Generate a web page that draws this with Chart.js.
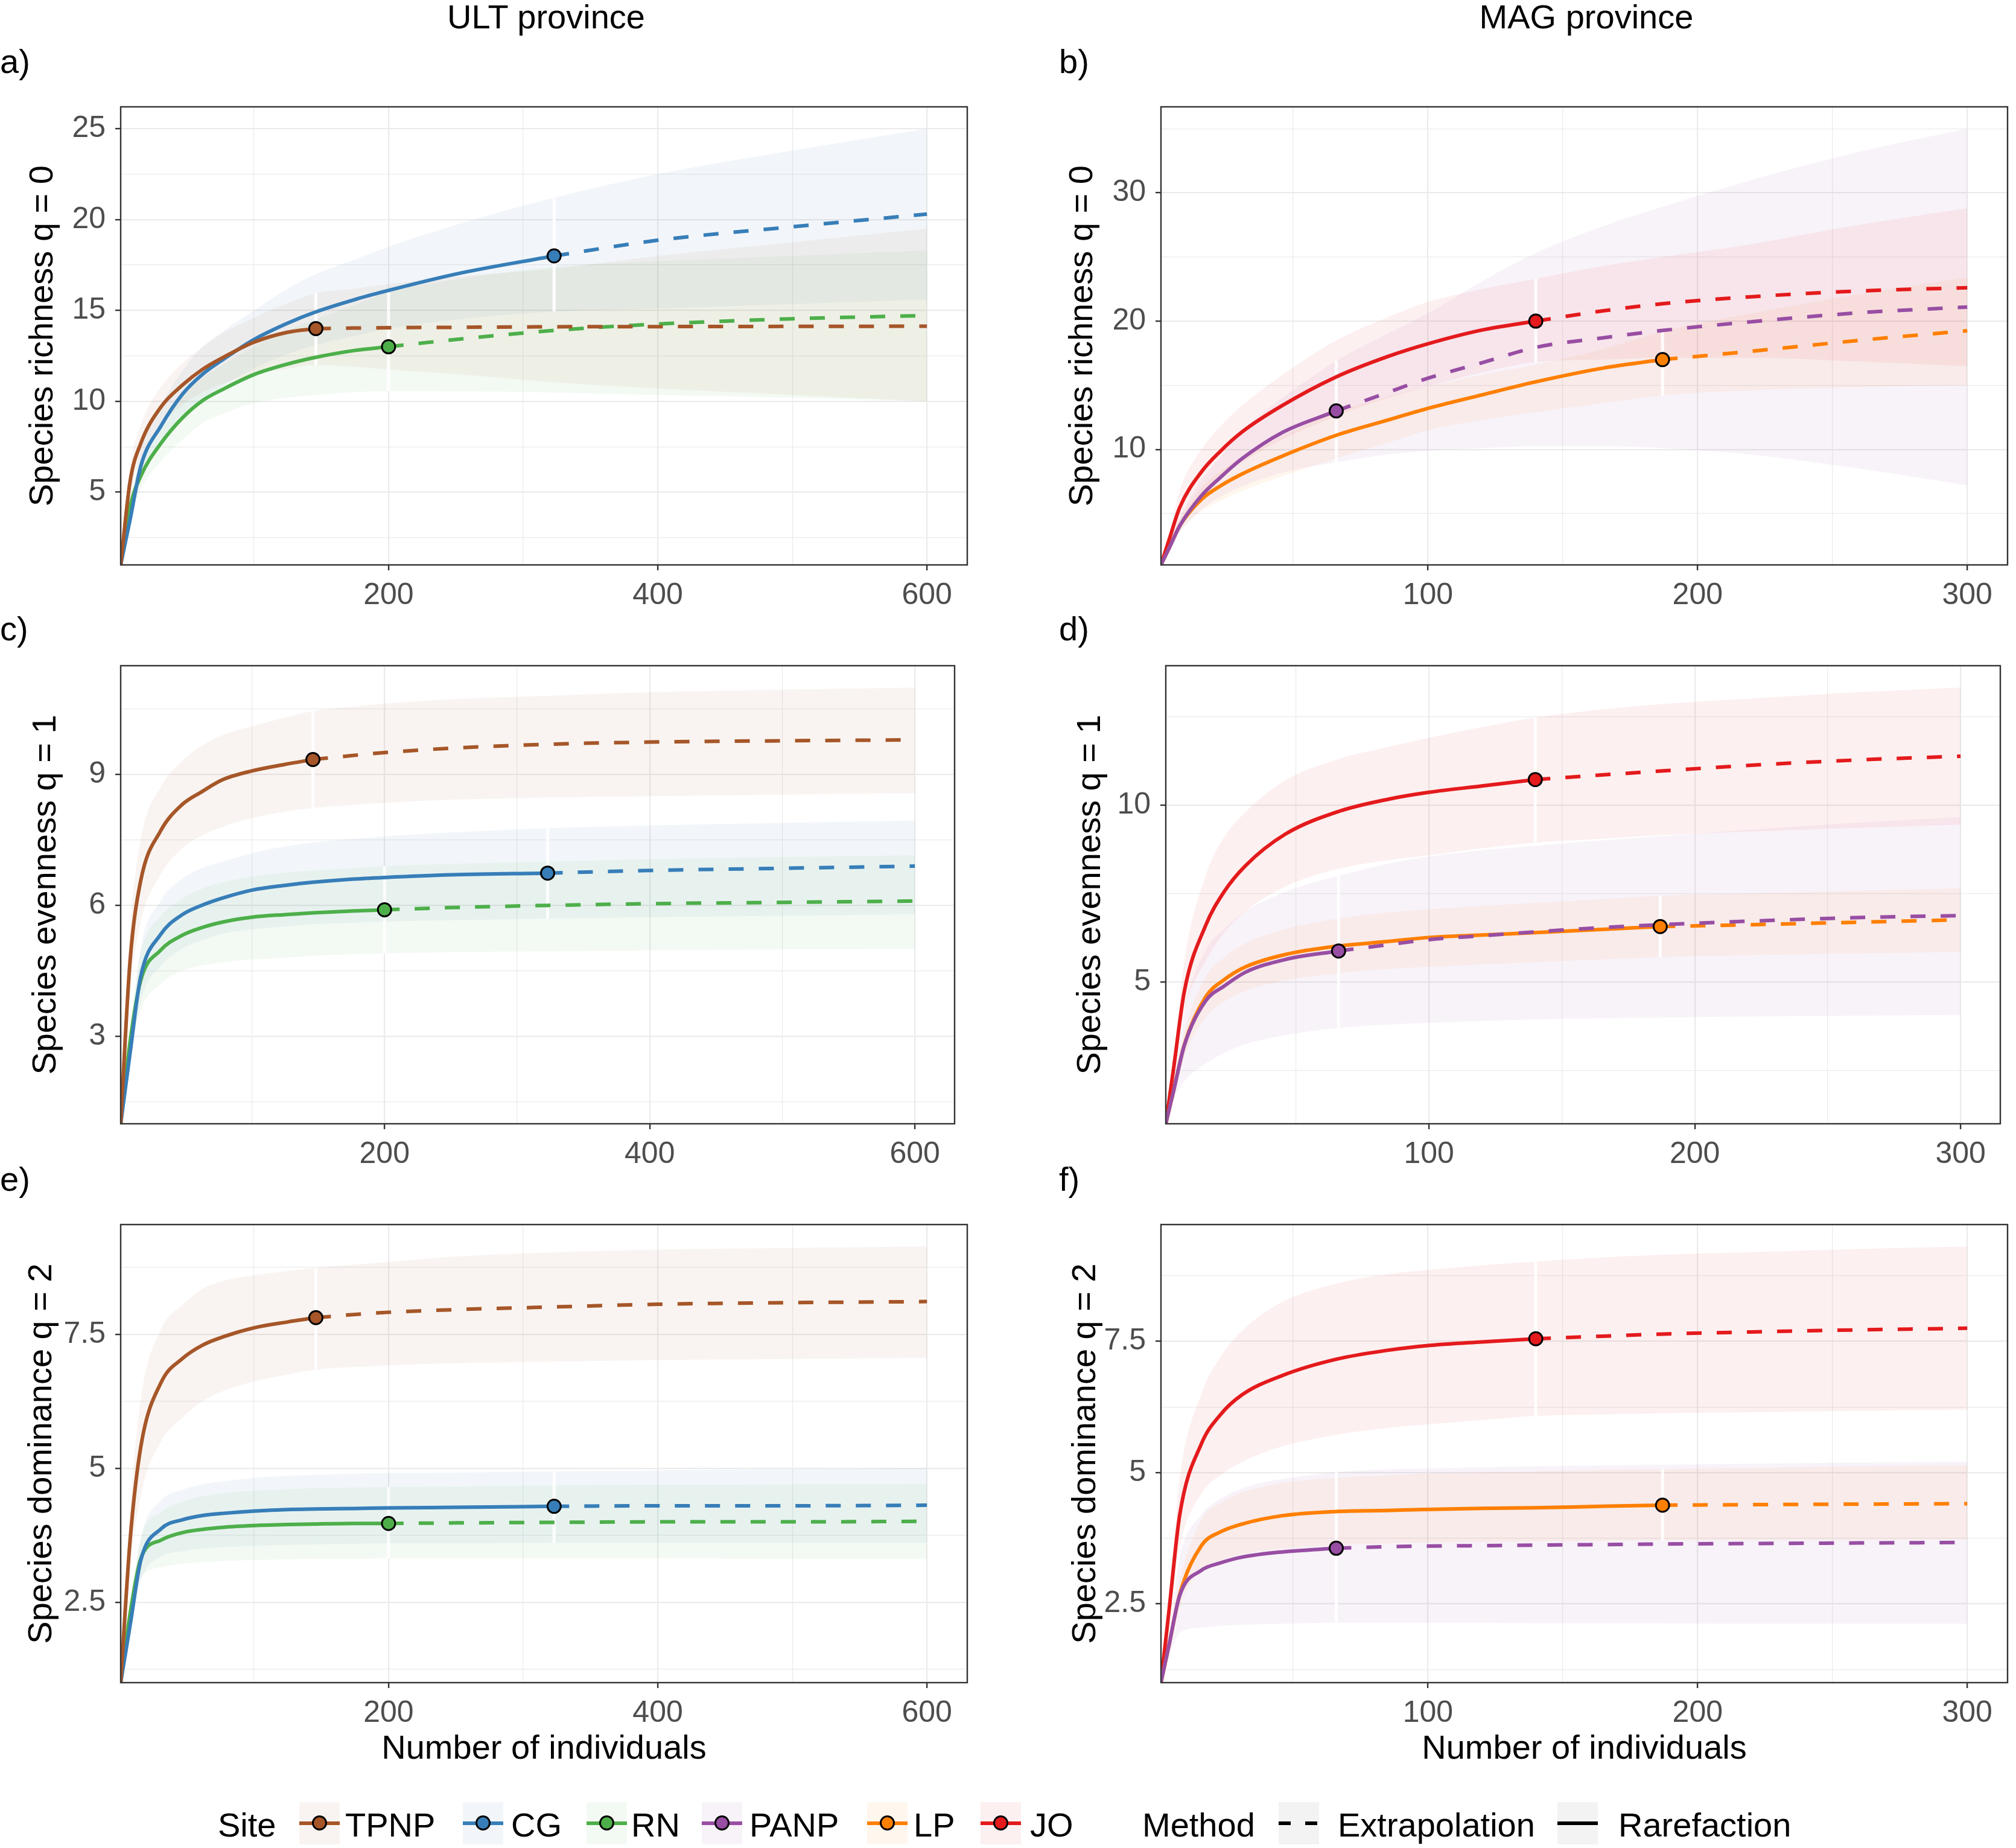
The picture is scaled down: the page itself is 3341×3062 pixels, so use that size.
<!DOCTYPE html>
<html>
<head>
<meta charset="utf-8">
<script src="https://cdn.jsdelivr.net/npm/chart.js@4.4.1/dist/chart.umd.min.js"></script>
<style>
    html, body { margin: 0; padding: 0; background: #fff; }
    body { position: relative; width: 3341px; height: 3062px; overflow: hidden;
           font-family: 'Liberation Sans', Arial, sans-serif; }
    canvas { position: absolute; }
    .txt { position: absolute; font-size: 56px; line-height: 56px; color: #000; white-space: nowrap; }
    .key { position: absolute; width: 67px; height: 70px; }
    .key .ln { position: absolute; left: 0; right: 0; top: 32px; height: 6px; }
    .key .pt { position: absolute; left: 21px; top: 22px; width: 19px; height: 19px;
               border: 3px solid #000; border-radius: 50%; }
</style>
</head>
<body>
<div class="txt" style="left:905px; top:0px; transform:translateX(-50%)">ULT province</div>
<div class="txt" style="left:2629px; top:0px; transform:translateX(-50%)">MAG province</div>
<div class="txt" style="left:0px; top:74px">a)</div>
<div class="txt" style="left:1755px; top:74px">b)</div>
<div class="txt" style="left:0px; top:1014px">c)</div>
<div class="txt" style="left:1755px; top:1014px">d)</div>
<div class="txt" style="left:0px; top:1926px">e)</div>
<div class="txt" style="left:1755px; top:1926px">f)</div>

<script>
// ---------------------------------------------------------------------------
// Data (read off the figure): sample size grid, observed sample sizes,
// estimate / lower / upper bound of the diversity curves per site.
// ---------------------------------------------------------------------------
const ULT_N = [1, 8, 16, 31, 47, 62, 78, 100, 125, 146, 175, 200, 250, 323, 400, 500, 600];
const MAG_N = [1, 4, 8, 16, 23, 31, 46, 66, 85, 100, 120, 140, 165, 187, 220, 260, 300];

const ULT_SITES = ['TPNP', 'CG', 'RN'];
const MAG_SITES = ['PANP', 'LP', 'JO'];
const ULT_OBS = [146, 323, 200];
const MAG_OBS = [66, 187, 140];
const ULT_COLORS = ['#A65628', '#377EB8', '#4DAF4A'];
const MAG_COLORS = ['#984EA3', '#FF7F00', '#E41A1C'];

const ULT_X_TICKS = [200, 400, 600];
const MAG_X_TICKS = [100, 200, 300];
const A_Y_TICKS = [5, 10, 15, 20, 25];
const B_Y_TICKS = [10, 20, 30];
const C_Y_TICKS = [3, 6, 9];
const D_Y_TICKS = [5, 10];
const E_Y_TICKS = [2.5, 5, 7.5];
const F_Y_TICKS = [2.5, 5, 7.5];

// q = 0, ULT
const TPNP_Q0_EST = [1, 5.6, 7.7, 9.7, 10.9, 11.77, 12.45, 13.25, 13.8, 14.0, 14.03, 14.05, 14.07, 14.1, 14.11, 14.12, 14.13];
const TPNP_Q0_LO  = [1, 4.9, 6.8, 8.7, 9.8, 10.5, 11.0, 11.5, 11.8, 12.0, 11.9, 11.75, 11.5, 11.05, 10.7, 10.35, 10.0];
const TPNP_Q0_HI  = [1, 6.3, 8.7, 10.8, 12.1, 13.0, 13.8, 14.6, 15.4, 15.95, 16.2, 16.45, 16.85, 17.3, 18.0, 18.75, 19.5];
const CG_Q0_EST = [1, 3.5, 6.45, 8.65, 10.4, 11.5, 12.35, 13.4, 14.3, 14.92, 15.6, 16.1, 17.0, 18.0, 18.86, 19.6, 20.3];
const CG_Q0_LO  = [1, 3.0, 5.6, 7.6, 9.1, 10.1, 10.9, 11.8, 12.6, 13.1, 13.6, 14.0, 14.5, 14.94, 15.1, 15.35, 15.6];
const CG_Q0_HI  = [1, 4.0, 7.4, 9.8, 11.7, 13.0, 13.9, 15.0, 16.2, 17.0, 17.8, 18.5, 19.7, 21.2, 22.5, 23.8, 25.0];
const RN_Q0_EST = [1, 4.2, 5.9, 7.7, 9.1, 10.05, 10.7, 11.47, 12.05, 12.42, 12.8, 13.0, 13.4, 13.9, 14.25, 14.54, 14.72];
const RN_Q0_LO  = [1, 3.7, 5.2, 6.7, 7.9, 8.8, 9.35, 9.9, 10.2, 10.35, 10.5, 10.56, 10.55, 10.48, 10.35, 10.2, 10.0];
const RN_Q0_HI  = [1, 4.7, 6.6, 8.6, 10.2, 11.3, 12.05, 13.0, 13.9, 14.5, 15.3, 16.0, 16.7, 17.4, 17.7, 18.0, 18.3];

// q = 1, ULT
const TPNP_Q1_EST = [1, 4.7, 6.55, 7.7, 8.3, 8.6, 8.88, 9.08, 9.23, 9.34, 9.43, 9.5, 9.6, 9.69, 9.74, 9.77, 9.79];
const TPNP_Q1_LO  = [1, 4.0, 5.6, 6.7, 7.3, 7.6, 7.8, 8.0, 8.15, 8.23, 8.3, 8.35, 8.42, 8.47, 8.5, 8.54, 8.57];
const TPNP_Q1_HI  = [1, 5.4, 7.5, 8.7, 9.3, 9.65, 9.9, 10.1, 10.3, 10.45, 10.55, 10.62, 10.72, 10.8, 10.88, 10.94, 10.99];
const CG_Q1_EST = [1, 2.6, 4.36, 5.33, 5.78, 6.0, 6.17, 6.35, 6.46, 6.53, 6.6, 6.64, 6.7, 6.74, 6.8, 6.85, 6.9];
const CG_Q1_LO  = [1, 2.3, 3.8, 4.6, 5.0, 5.2, 5.35, 5.45, 5.52, 5.57, 5.6, 5.63, 5.66, 5.7, 5.73, 5.76, 5.8];
const CG_Q1_HI  = [1, 2.8, 5.0, 6.1, 6.6, 6.85, 7.0, 7.2, 7.35, 7.44, 7.52, 7.58, 7.67, 7.77, 7.83, 7.89, 7.94];
const RN_Q1_EST = [1, 2.86, 4.27, 4.97, 5.31, 5.49, 5.62, 5.73, 5.79, 5.83, 5.87, 5.9, 5.95, 6.0, 6.04, 6.07, 6.1];
const RN_Q1_LO  = [1, 2.6, 3.6, 4.2, 4.5, 4.62, 4.7, 4.76, 4.8, 4.85, 4.88, 4.9, 4.93, 4.95, 4.97, 4.99, 5.0];
const RN_Q1_HI  = [1, 3.2, 4.9, 5.75, 6.15, 6.38, 6.53, 6.66, 6.75, 6.8, 6.85, 6.9, 6.95, 7.0, 7.06, 7.11, 7.15];

// q = 2, ULT
const TPNP_Q2_EST = [1, 3.66, 5.41, 6.6, 7.05, 7.3, 7.46, 7.62, 7.73, 7.81, 7.87, 7.91, 7.96, 8.01, 8.06, 8.09, 8.11];
const TPNP_Q2_LO  = [1, 3.1, 4.5, 5.5, 5.95, 6.25, 6.45, 6.62, 6.75, 6.84, 6.89, 6.92, 6.96, 6.99, 7.02, 7.04, 7.06];
const TPNP_Q2_HI  = [1, 4.2, 6.3, 7.6, 8.05, 8.35, 8.5, 8.6, 8.68, 8.74, 8.8, 8.85, 8.95, 9.03, 9.08, 9.11, 9.14];
const CG_Q2_EST = [1, 2.07, 3.29, 3.87, 4.04, 4.12, 4.16, 4.2, 4.23, 4.24, 4.25, 4.26, 4.27, 4.29, 4.3, 4.3, 4.31];
const CG_Q2_LO  = [1, 1.9, 2.9, 3.35, 3.45, 3.5, 3.53, 3.55, 3.57, 3.58, 3.59, 3.6, 3.6, 3.61, 3.61, 3.61, 3.61];
const CG_Q2_HI  = [1, 2.25, 3.7, 4.4, 4.6, 4.7, 4.76, 4.82, 4.86, 4.88, 4.9, 4.91, 4.92, 4.94, 4.96, 4.98, 5.0];
const RN_Q2_EST = [1, 2.29, 3.32, 3.66, 3.8, 3.86, 3.9, 3.93, 3.95, 3.96, 3.97, 3.97, 3.98, 3.99, 4.0, 4.0, 4.01];
const RN_Q2_LO  = [1, 2.1, 2.95, 3.15, 3.22, 3.25, 3.27, 3.29, 3.3, 3.31, 3.31, 3.32, 3.32, 3.32, 3.32, 3.31, 3.31];
const RN_Q2_HI  = [1, 2.5, 3.7, 4.18, 4.38, 4.48, 4.54, 4.58, 4.61, 4.63, 4.64, 4.65, 4.66, 4.68, 4.69, 4.7, 4.71];

// q = 0, MAG
const PANP_Q0_EST = [1, 2.3, 4.06, 6.39, 7.81, 9.27, 11.32, 13.0, 14.43, 15.55, 16.75, 17.95, 18.7, 19.27, 19.95, 20.65, 21.1];
const PANP_Q0_LO  = [1, 2.0, 3.5, 5.3, 6.3, 7.1, 8.2, 9.0, 9.6, 9.9, 10.1, 10.25, 10.25, 10.1, 9.6, 8.5, 7.2];
const PANP_Q0_HI  = [1, 2.6, 4.7, 7.6, 9.4, 11.4, 14.0, 16.9, 19.0, 20.6, 23.1, 25.3, 27.4, 28.9, 31.0, 33.2, 35.0];
const LP_Q0_EST = [1, 2.3, 4.06, 6.1, 7.15, 8.08, 9.48, 11.1, 12.28, 13.2, 14.25, 15.27, 16.34, 17.0, 17.65, 18.5, 19.25];
const LP_Q0_LO  = [1, 2.1, 3.6, 5.2, 6.0, 6.75, 7.9, 9.3, 10.5, 11.5, 12.3, 12.9, 13.6, 14.2, 14.6, 14.85, 15.0];
const LP_Q0_HI  = [1, 2.5, 4.5, 7.0, 8.3, 9.4, 11.0, 12.9, 14.1, 14.9, 15.8, 16.6, 17.8, 19.2, 20.6, 22.1, 23.4];
const JO_Q0_EST = [1, 2.95, 5.5, 8.25, 9.85, 11.35, 13.42, 15.65, 17.23, 18.23, 19.3, 20.0, 20.8, 21.35, 21.9, 22.35, 22.6];
const JO_Q0_LO  = [1, 2.6, 4.3, 6.5, 7.9, 9.0, 10.8, 12.6, 14.0, 14.9, 16.0, 16.8, 17.0, 17.15, 17.15, 16.85, 16.5];
const JO_Q0_HI  = [1, 3.3, 6.8, 10.0, 11.8, 13.4, 15.8, 18.5, 20.3, 21.5, 22.5, 23.3, 24.3, 25.0, 26.0, 27.5, 28.8];

// q = 1, MAG
const PANP_Q1_EST = [1, 1.95, 3.22, 4.47, 4.89, 5.28, 5.64, 5.88, 6.06, 6.2, 6.31, 6.42, 6.54, 6.62, 6.72, 6.82, 6.88];
const PANP_Q1_LO  = [1, 1.7, 2.2, 2.7, 3.0, 3.25, 3.5, 3.71, 3.8, 3.85, 3.9, 3.95, 3.98, 4.0, 4.03, 4.05, 4.07];
const PANP_Q1_HI  = [1, 2.2, 4.2, 5.9, 6.5, 7.0, 7.55, 8.0, 8.35, 8.55, 8.72, 8.85, 9.0, 9.12, 9.3, 9.5, 9.66];
const LP_Q1_EST = [1, 1.96, 3.24, 4.58, 5.07, 5.43, 5.78, 6.02, 6.15, 6.26, 6.33, 6.4, 6.49, 6.57, 6.62, 6.69, 6.76];
const LP_Q1_LO  = [1, 1.8, 2.9, 4.0, 4.45, 4.75, 5.05, 5.25, 5.37, 5.43, 5.5, 5.56, 5.64, 5.71, 5.76, 5.81, 5.85];
const LP_Q1_HI  = [1, 2.1, 3.6, 5.15, 5.7, 6.1, 6.5, 6.8, 6.97, 7.06, 7.15, 7.24, 7.34, 7.44, 7.5, 7.58, 7.65];
const JO_Q1_EST = [1, 2.6, 4.75, 6.6, 7.56, 8.29, 9.18, 9.82, 10.17, 10.36, 10.54, 10.72, 10.85, 10.96, 11.12, 11.27, 11.38];
const JO_Q1_LO  = [1, 2.4, 4.2, 5.6, 6.4, 7.0, 7.7, 8.2, 8.45, 8.58, 8.78, 8.94, 9.05, 9.15, 9.25, 9.35, 9.45];
const JO_Q1_HI  = [1, 2.8, 5.6, 8.0, 9.1, 9.8, 10.7, 11.3, 11.65, 11.9, 12.2, 12.47, 12.7, 12.85, 13.0, 13.18, 13.32];

// q = 2, MAG
const PANP_Q2_EST = [1, 1.72, 2.67, 3.14, 3.28, 3.39, 3.49, 3.56, 3.59, 3.6, 3.61, 3.62, 3.63, 3.64, 3.65, 3.66, 3.67];
const PANP_Q2_LO  = [1, 1.5, 1.95, 2.05, 2.08, 2.1, 2.12, 2.14, 2.14, 2.14, 2.14, 2.13, 2.13, 2.13, 2.12, 2.12, 2.12];
const PANP_Q2_HI  = [1, 1.95, 3.4, 4.2, 4.5, 4.7, 4.88, 5.01, 5.06, 5.08, 5.1, 5.12, 5.14, 5.15, 5.17, 5.19, 5.21];
const LP_Q2_EST = [1, 1.72, 2.69, 3.61, 3.87, 4.02, 4.18, 4.26, 4.28, 4.3, 4.32, 4.33, 4.36, 4.38, 4.39, 4.4, 4.41];
const LP_Q2_LO  = [1, 1.6, 2.45, 3.15, 3.33, 3.45, 3.55, 3.62, 3.65, 3.67, 3.68, 3.69, 3.7, 3.71, 3.72, 3.72, 3.73];
const LP_Q2_HI  = [1, 1.85, 2.95, 4.1, 4.42, 4.62, 4.8, 4.9, 4.95, 4.98, 5.0, 5.02, 5.05, 5.07, 5.09, 5.12, 5.14];
const JO_Q2_EST = [1, 2.38, 4.21, 5.55, 6.1, 6.48, 6.85, 7.16, 7.33, 7.42, 7.49, 7.55, 7.6, 7.64, 7.68, 7.72, 7.75];
const JO_Q2_LO  = [1, 2.2, 3.6, 4.6, 4.95, 5.2, 5.5, 5.72, 5.85, 5.92, 6.0, 6.08, 6.11, 6.13, 6.15, 6.18, 6.2];
const JO_Q2_HI  = [1, 2.6, 4.9, 6.5, 7.2, 7.7, 8.25, 8.6, 8.78, 8.86, 8.95, 9.02, 9.1, 9.15, 9.2, 9.26, 9.31];

// ---------------------------------------------------------------------------
// Style
// ---------------------------------------------------------------------------
const RIBBON_ALPHA = 0.065;
const FONT = "'Liberation Sans', Arial, sans-serif";
Chart.defaults.font.family = FONT;

function rgba(hex, a) {
    const v = parseInt(hex.slice(1), 16);
    return `rgba(${v >> 16}, ${(v >> 8) & 255}, ${v & 255}, ${a})`;
}

function toPoints(n, values) {
    return n.map((x, i) => ({ x, y: values[i] }));
}

// ggplot-style minor breaks halfway between the major ones
function axisTicks(majors, min, max) {
    const step = majors[1] - majors[0];
    const all = majors.slice();
    for (let v = majors[0] - step / 2; v <= max; v += step) {
        if (v >= min) all.push(v);
    }
    return all.sort((a, b) => a - b).map(value => ({ value }));
}

// white gap in each ribbon at the observed sample size, drawn before the curves
function seamPlugin(seams) {
    return {
        id: 'seams',
        beforeDatasetsDraw(chart) { chart.$seamDone = false; },
        beforeDatasetDraw(chart, args) {
            const ds = chart.data.datasets[args.index];
            if (chart.$seamDone || ds.order !== 1) return;
            chart.$seamDone = true;
            const { ctx, chartArea, scales: { x, y } } = chart;
            ctx.save();
            ctx.beginPath();
            ctx.rect(chartArea.left, chartArea.top, chartArea.right - chartArea.left, chartArea.bottom - chartArea.top);
            ctx.clip();
            ctx.fillStyle = 'rgba(255, 255, 255, 0.9)';
            seams.forEach(s => {
                const px = x.getPixelForValue(s.x);
                const top = y.getPixelForValue(s.hi);
                const bottom = y.getPixelForValue(s.lo);
                ctx.fillRect(px - 2.5, top, 5, bottom - top);
            });
            ctx.restore();
        }
    };
}

const framePlugin = {
    id: 'frame',
    afterDatasetsDraw(chart) {
        const { ctx, chartArea: a } = chart;
        ctx.save();
        ctx.strokeStyle = '#333333';
        ctx.lineWidth = 2.4;
        ctx.strokeRect(a.left, a.top, a.right - a.left, a.bottom - a.top);
        ctx.restore();
    }
};

// ---------------------------------------------------------------------------
// Panels
// ---------------------------------------------------------------------------
const PANELS = [
    { n: ULT_N, obs: ULT_OBS, colors: ULT_COLORS, xTicks: ULT_X_TICKS, yTicks: A_Y_TICKS,
      yTitle: 'Species richness q = 0', bottom: false,
      series: [[TPNP_Q0_EST, TPNP_Q0_LO, TPNP_Q0_HI], [CG_Q0_EST, CG_Q0_LO, CG_Q0_HI], [RN_Q0_EST, RN_Q0_LO, RN_Q0_HI]],
      box: { left: 0, fl: 200, fr: 1610, ft: 177, fb: 936, tx: 72 } },
    { n: MAG_N, obs: MAG_OBS, colors: MAG_COLORS, xTicks: MAG_X_TICKS, yTicks: B_Y_TICKS,
      yTitle: 'Species richness q = 0', bottom: false,
      series: [[PANP_Q0_EST, PANP_Q0_LO, PANP_Q0_HI], [LP_Q0_EST, LP_Q0_LO, LP_Q0_HI], [JO_Q0_EST, JO_Q0_LO, JO_Q0_HI]],
      box: { left: 1700, fl: 1924, fr: 3334, ft: 177, fb: 936, tx: 1795 } },
    { n: ULT_N, obs: ULT_OBS, colors: ULT_COLORS, xTicks: ULT_X_TICKS, yTicks: C_Y_TICKS,
      yTitle: 'Species evenness q = 1', bottom: false,
      series: [[TPNP_Q1_EST, TPNP_Q1_LO, TPNP_Q1_HI], [CG_Q1_EST, CG_Q1_LO, CG_Q1_HI], [RN_Q1_EST, RN_Q1_LO, RN_Q1_HI]],
      box: { left: 0, fl: 200, fr: 1589, ft: 1103, fb: 1862, tx: 77 } },
    { n: MAG_N, obs: MAG_OBS, colors: MAG_COLORS, xTicks: MAG_X_TICKS, yTicks: D_Y_TICKS,
      yTitle: 'Species evenness q = 1', bottom: false,
      series: [[PANP_Q1_EST, PANP_Q1_LO, PANP_Q1_HI], [LP_Q1_EST, LP_Q1_LO, LP_Q1_HI], [JO_Q1_EST, JO_Q1_LO, JO_Q1_HI]],
      box: { left: 1700, fl: 1932, fr: 3322, ft: 1103, fb: 1862, tx: 1808 } },
    { n: ULT_N, obs: ULT_OBS, colors: ULT_COLORS, xTicks: ULT_X_TICKS, yTicks: E_Y_TICKS,
      yTitle: 'Species dominance q = 2', bottom: true,
      series: [[TPNP_Q2_EST, TPNP_Q2_LO, TPNP_Q2_HI], [CG_Q2_EST, CG_Q2_LO, CG_Q2_HI], [RN_Q2_EST, RN_Q2_LO, RN_Q2_HI]],
      box: { left: 0, fl: 200, fr: 1610, ft: 2029, fb: 2788, tx: 70 } },
    { n: MAG_N, obs: MAG_OBS, colors: MAG_COLORS, xTicks: MAG_X_TICKS, yTicks: F_Y_TICKS,
      yTitle: 'Species dominance q = 2', bottom: true,
      series: [[PANP_Q2_EST, PANP_Q2_LO, PANP_Q2_HI], [LP_Q2_EST, LP_Q2_LO, LP_Q2_HI], [JO_Q2_EST, JO_Q2_LO, JO_Q2_HI]],
      box: { left: 1700, fl: 1924, fr: 3334, ft: 2029, fb: 2788, tx: 1800 } }
];

function drawPanel(p) {
    const b = p.box;
    const axisH = p.bottom ? 150 : 80;
    const top = b.ft - 20;
    const width = b.fr + 7 - b.left;
    const height = b.fb - top + axisH;

    const canvas = document.createElement('canvas');
    canvas.width = width;
    canvas.height = height;
    canvas.style.left = b.left + 'px';
    canvas.style.top = top + 'px';
    canvas.style.width = width + 'px';
    canvas.style.height = height + 'px';
    document.body.appendChild(canvas);

    // axis limits like ggplot: start at 1, 5% expansion at the top end
    const xMax = 1 + (p.n[p.n.length - 1] - 1) * 1.05;
    const hiMax = Math.max(...p.series.map(s => Math.max(...s[2])));
    const yMax = 1 + (hiMax - 1) * 1.05;

    const datasets = [];
    const seams = [];

    // Ribbons (confidence bands)
    p.series.forEach(([est, lo, hi], s) => {
        datasets.push({
            data: toPoints(p.n, lo), borderWidth: 0, borderColor: 'rgba(0,0,0,0)',
            pointRadius: 0, fill: false, order: 3, cubicInterpolationMode: 'monotone'
        });
        datasets.push({
            data: toPoints(p.n, hi), borderWidth: 0, borderColor: 'rgba(0,0,0,0)',
            pointRadius: 0, fill: '-1', backgroundColor: rgba(p.colors[s], RIBBON_ALPHA),
            order: 3, cubicInterpolationMode: 'monotone'
        });
        const k = p.n.indexOf(p.obs[s]);
        seams.push({ x: p.obs[s], lo: lo[k], hi: hi[k] });
    });

    // Rarefaction (solid) and extrapolation (dashed)
    p.series.forEach(([est], s) => {
        const pts = toPoints(p.n, est);
        const obs = p.obs[s];
        const common = {
            borderColor: p.colors[s], borderWidth: 6, pointRadius: 0, fill: false,
            order: 1, cubicInterpolationMode: 'monotone'
        };
        datasets.push({ ...common, data: pts.filter(d => d.x <= obs) });
        datasets.push({ ...common, data: pts.filter(d => d.x >= obs), borderDash: [25, 25] });
    });

    // Observed sample points
    p.series.forEach(([est], s) => {
        const k = p.n.indexOf(p.obs[s]);
        datasets.push({
            data: [{ x: p.obs[s], y: est[k] }], showLine: false,
            pointRadius: 11, pointBorderWidth: 3,
            pointBackgroundColor: p.colors[s], pointBorderColor: '#000', order: 0
        });
    });

    const isMajor = (majors) => (c) => c.tick && majors.includes(c.tick.value);
    const xMajor = isMajor(p.xTicks);
    const yMajor = isMajor(p.yTicks);

    new Chart(canvas, {
        type: 'line',
        data: { datasets },
        plugins: [seamPlugin(seams), framePlugin],
        options: {
            responsive: false,
            animation: false,
            events: [],
            layout: { padding: { top: 20, right: 7, left: 0, bottom: 0 } },
            plugins: { legend: { display: false }, tooltip: { enabled: false } },
            scales: {
                x: {
                    type: 'linear', min: 1, max: xMax, bounds: 'data',
                    afterBuildTicks: sc => { sc.ticks = axisTicks(p.xTicks, 1, xMax); },
                    afterFit: sc => {
                        sc.height = axisH;
                        sc.paddingLeft = 0;
                        sc.paddingRight = 0;
                    },
                    ticks: {
                        autoSkip: false, maxRotation: 0, minRotation: 0, padding: 12,
                        color: '#4D4D4D', font: { size: 50 },
                        callback: v => p.xTicks.includes(v) ? String(v) : ''
                    },
                    grid: {
                        color: '#EBEBEB',
                        lineWidth: c => xMajor(c) ? 2.2 : 1.2,
                        tickLength: 9, tickWidth: 2.4,
                        tickColor: c => xMajor(c) ? '#333333' : 'rgba(0,0,0,0)'
                    },
                    border: { display: false },
                    title: {
                        display: p.bottom, text: 'Number of individuals', color: '#000',
                        font: { size: 56 }, padding: { top: 0, bottom: 6 }
                    }
                },
                y: {
                    type: 'linear', min: 1, max: yMax, bounds: 'data',
                    afterBuildTicks: sc => { sc.ticks = axisTicks(p.yTicks, 1, yMax); },
                    afterFit: sc => {
                        sc.width = b.fl - b.left;
                        sc.paddingTop = 0;
                        sc.paddingBottom = 0;
                    },
                    ticks: {
                        autoSkip: false, padding: 16, color: '#4D4D4D', font: { size: 50 },
                        callback: v => p.yTicks.includes(v) ? String(v) : ''
                    },
                    grid: {
                        color: '#EBEBEB',
                        lineWidth: c => yMajor(c) ? 2.2 : 1.2,
                        tickLength: 9, tickWidth: 2.4,
                        tickColor: c => yMajor(c) ? '#333333' : 'rgba(0,0,0,0)'
                    },
                    border: { display: false },
                    title: {
                        display: true, text: p.yTitle, color: '#000', font: { size: 56 },
                        padding: { top: b.tx - b.left - 33.6, bottom: 0 }
                    }
                }
            }
        }
    });
}

PANELS.forEach(drawPanel);

// ---------------------------------------------------------------------------
// Legend
// ---------------------------------------------------------------------------
function addText(text, left, top) {
    const d = document.createElement('div');
    d.className = 'txt';
    d.style.left = left + 'px';
    d.style.top = top + 'px';
    d.textContent = text;
    document.body.appendChild(d);
}

function addKey(left, bg, lineCss, color) {
    const k = document.createElement('div');
    k.className = 'key';
    k.style.left = left + 'px';
    k.style.top = '2986px';
    k.style.background = bg;
    const ln = document.createElement('div');
    ln.className = 'ln';
    ln.style.background = lineCss;
    k.appendChild(ln);
    if (color) {
        const pt = document.createElement('div');
        pt.className = 'pt';
        pt.style.background = color;
        k.appendChild(pt);
    }
    document.body.appendChild(k);
}

const LEGEND_SITES = ULT_SITES.concat(MAG_SITES);
const LEGEND_COLORS = ULT_COLORS.concat(MAG_COLORS);
const keyLefts = [496, 767, 972, 1163, 1437, 1625];
const textLefts = [572, 847, 1046, 1242, 1514, 1707];

addText('Site', 361, 2996);
LEGEND_SITES.forEach((name, i) => {
    const c = LEGEND_COLORS[i];
    addKey(keyLefts[i], rgba(c, RIBBON_ALPHA), c, c);
    addText(name, textLefts[i], 2996);
});
addText('Method', 1893, 2996);
addKey(2119, '#F3F3F3', 'repeating-linear-gradient(to right, #000 0 20px, transparent 20px 44px)', null);
addText('Extrapolation', 2217, 2996);
addKey(2581, '#F3F3F3', '#000', null);
addText('Rarefaction', 2682, 2996);
</script>
</body>
</html>
